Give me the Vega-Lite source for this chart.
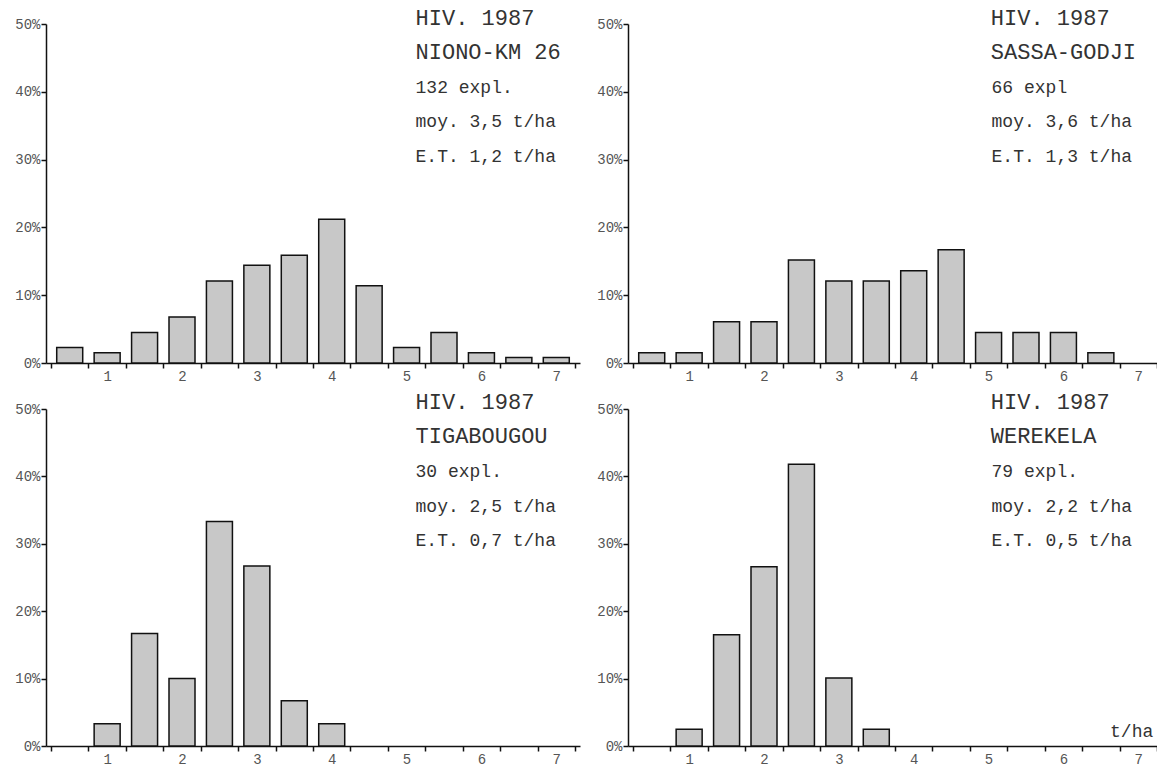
{
  "$schema": "https://vega.github.io/schema/vega-lite/v6.json",
  "padding": {"left": 14, "top": 6, "right": 0, "bottom": 0},
  "background": "white",
  "config": {
    "view": {"stroke": null},
    "font": "Liberation Mono",
    "axis": {"title": null, "grid": false, "tickSize": 5, "tickColor": "#111", "tickWidth": 1.5, "domainColor": "#111", "domainWidth": 1.5,
      "labelFont": "Liberation Mono", "labelFontSize": 14, "labelColor": "#555", "labelOverlap": false, "labelBound": false, "labelFlush": false},
    "axisX": {"labelPadding": 1},
    "axisY": {"labelPadding": 1},
    "bar": {"width": 26, "fill": "#c8c8c8", "stroke": "#111", "strokeWidth": 1.5},
    "text": {"font": "Liberation Mono", "color": "#333", "align": "left", "baseline": "middle"}
  },
  "datasets": {
    "bars": [
      {"panel": "NIONO-KM 26", "x": 0.5, "pct": 2.3},
      {"panel": "NIONO-KM 26", "x": 1.0, "pct": 1.5},
      {"panel": "NIONO-KM 26", "x": 1.5, "pct": 4.5},
      {"panel": "NIONO-KM 26", "x": 2.0, "pct": 6.8},
      {"panel": "NIONO-KM 26", "x": 2.5, "pct": 12.1},
      {"panel": "NIONO-KM 26", "x": 3.0, "pct": 14.4},
      {"panel": "NIONO-KM 26", "x": 3.5, "pct": 15.9},
      {"panel": "NIONO-KM 26", "x": 4.0, "pct": 21.2},
      {"panel": "NIONO-KM 26", "x": 4.5, "pct": 11.4},
      {"panel": "NIONO-KM 26", "x": 5.0, "pct": 2.3},
      {"panel": "NIONO-KM 26", "x": 5.5, "pct": 4.5},
      {"panel": "NIONO-KM 26", "x": 6.0, "pct": 1.5},
      {"panel": "NIONO-KM 26", "x": 6.5, "pct": 0.8},
      {"panel": "NIONO-KM 26", "x": 7.0, "pct": 0.8},
      {"panel": "SASSA-GODJI", "x": 0.5, "pct": 1.5},
      {"panel": "SASSA-GODJI", "x": 1.0, "pct": 1.5},
      {"panel": "SASSA-GODJI", "x": 1.5, "pct": 6.1},
      {"panel": "SASSA-GODJI", "x": 2.0, "pct": 6.1},
      {"panel": "SASSA-GODJI", "x": 2.5, "pct": 15.2},
      {"panel": "SASSA-GODJI", "x": 3.0, "pct": 12.1},
      {"panel": "SASSA-GODJI", "x": 3.5, "pct": 12.1},
      {"panel": "SASSA-GODJI", "x": 4.0, "pct": 13.6},
      {"panel": "SASSA-GODJI", "x": 4.5, "pct": 16.7},
      {"panel": "SASSA-GODJI", "x": 5.0, "pct": 4.5},
      {"panel": "SASSA-GODJI", "x": 5.5, "pct": 4.5},
      {"panel": "SASSA-GODJI", "x": 6.0, "pct": 4.5},
      {"panel": "SASSA-GODJI", "x": 6.5, "pct": 1.5},
      {"panel": "TIGABOUGOU", "x": 1.0, "pct": 3.3},
      {"panel": "TIGABOUGOU", "x": 1.5, "pct": 16.7},
      {"panel": "TIGABOUGOU", "x": 2.0, "pct": 10.0},
      {"panel": "TIGABOUGOU", "x": 2.5, "pct": 33.3},
      {"panel": "TIGABOUGOU", "x": 3.0, "pct": 26.7},
      {"panel": "TIGABOUGOU", "x": 3.5, "pct": 6.7},
      {"panel": "TIGABOUGOU", "x": 4.0, "pct": 3.3},
      {"panel": "WEREKELA", "x": 1.0, "pct": 2.5},
      {"panel": "WEREKELA", "x": 1.5, "pct": 16.5},
      {"panel": "WEREKELA", "x": 2.0, "pct": 26.6},
      {"panel": "WEREKELA", "x": 2.5, "pct": 41.8},
      {"panel": "WEREKELA", "x": 3.0, "pct": 10.1},
      {"panel": "WEREKELA", "x": 3.5, "pct": 2.5}
    ],
    "texts": [
      {"panel": "NIONO-KM 26", "big": ["HIV. 1987", "NIONO-KM 26"], "small": ["132 expl.", "moy. 3,5 t/ha", "E.T. 1,2 t/ha"], "unit": ""},
      {"panel": "SASSA-GODJI", "big": ["HIV. 1987", "SASSA-GODJI"], "small": ["66 expl", "moy. 3,6 t/ha", "E.T. 1,3 t/ha"], "unit": ""},
      {"panel": "TIGABOUGOU", "big": ["HIV. 1987", "TIGABOUGOU"], "small": ["30 expl.", "moy. 2,5 t/ha", "E.T. 0,7 t/ha"], "unit": ""},
      {"panel": "WEREKELA", "big": ["HIV. 1987", "WEREKELA"], "small": ["79 expl.", "moy. 2,2 t/ha", "E.T. 0,5 t/ha"], "unit": "t/ha"}
    ]
  },
  "vconcat": [
    {"hconcat": [
      {"width": 534, "height": 339, "resolve": {"axis": {"x": "independent", "y": "independent"}}, "layer": [
        {"data": {"name": "bars"}, "transform": [{"filter": "datum.panel === 'NIONO-KM 26'"}], "mark": "bar",
          "encoding": {
            "x": {"field": "x", "type": "quantitative", "scale": {"domain": [0.25, 7.25], "nice": false, "zero": false},
              "axis": {"values": [0.25, 0.75, 1, 1.25, 1.75, 2, 2.25, 2.75, 3, 3.25, 3.75, 4, 4.25, 4.75, 5, 5.25, 5.75, 6, 6.25, 6.75, 7, 7.25],
                "labelExpr": "datum.value % 1 === 0 ? '' + datum.value : ''",
                "tickOpacity": {"condition": {"test": "datum.value % 1 === 0", "value": 0}, "value": 1}}},
            "y": {"field": "pct", "type": "quantitative", "scale": {"domain": [0, 50], "nice": false},
              "axis": {"values": [0, 10, 20, 30, 40, 50], "labelExpr": "datum.value + '%'"}}}},
        {"data": {"name": "texts"}, "transform": [{"filter": "datum.panel === 'NIONO-KM 26'"}], "mark": {"type": "text", "fontSize": 22, "lineHeight": 34},
          "encoding": {"x": {"datum": 5.12, "type": "quantitative", "axis": null}, "y": {"datum": 50.9, "type": "quantitative", "axis": null}, "text": {"field": "big"}}},
        {"data": {"name": "texts"}, "transform": [{"filter": "datum.panel === 'NIONO-KM 26'"}], "mark": {"type": "text", "fontSize": 18, "lineHeight": 34.5},
          "encoding": {"x": {"datum": 5.12, "type": "quantitative", "axis": null}, "y": {"datum": 40.6, "type": "quantitative", "axis": null}, "text": {"field": "small"}}}
      ]},
      {"width": 534, "height": 339, "resolve": {"axis": {"x": "independent", "y": "independent"}}, "layer": [
        {"data": {"name": "bars"}, "transform": [{"filter": "datum.panel === 'SASSA-GODJI'"}], "mark": "bar",
          "encoding": {
            "x": {"field": "x", "type": "quantitative", "scale": {"domain": [0.25, 7.25], "nice": false, "zero": false},
              "axis": {"values": [0.25, 0.75, 1, 1.25, 1.75, 2, 2.25, 2.75, 3, 3.25, 3.75, 4, 4.25, 4.75, 5, 5.25, 5.75, 6, 6.25, 6.75, 7, 7.25],
                "labelExpr": "datum.value % 1 === 0 ? '' + datum.value : ''",
                "tickOpacity": {"condition": {"test": "datum.value % 1 === 0", "value": 0}, "value": 1}}},
            "y": {"field": "pct", "type": "quantitative", "scale": {"domain": [0, 50], "nice": false},
              "axis": {"values": [0, 10, 20, 30, 40, 50], "labelExpr": "datum.value + '%'"}}}},
        {"data": {"name": "texts"}, "transform": [{"filter": "datum.panel === 'SASSA-GODJI'"}], "mark": {"type": "text", "fontSize": 22, "lineHeight": 34},
          "encoding": {"x": {"datum": 5.03, "type": "quantitative", "axis": null}, "y": {"datum": 50.9, "type": "quantitative", "axis": null}, "text": {"field": "big"}}},
        {"data": {"name": "texts"}, "transform": [{"filter": "datum.panel === 'SASSA-GODJI'"}], "mark": {"type": "text", "fontSize": 18, "lineHeight": 34.5},
          "encoding": {"x": {"datum": 5.04, "type": "quantitative", "axis": null}, "y": {"datum": 40.6, "type": "quantitative", "axis": null}, "text": {"field": "small"}}}
      ]}
    ], "spacing": 16},
    {"hconcat": [
      {"width": 534, "height": 337, "resolve": {"axis": {"x": "independent", "y": "independent"}}, "layer": [
        {"data": {"name": "bars"}, "transform": [{"filter": "datum.panel === 'TIGABOUGOU'"}], "mark": "bar",
          "encoding": {
            "x": {"field": "x", "type": "quantitative", "scale": {"domain": [0.25, 7.25], "nice": false, "zero": false},
              "axis": {"values": [0.25, 0.75, 1, 1.25, 1.75, 2, 2.25, 2.75, 3, 3.25, 3.75, 4, 4.25, 4.75, 5, 5.25, 5.75, 6, 6.25, 6.75, 7, 7.25],
                "labelExpr": "datum.value % 1 === 0 ? '' + datum.value : ''",
                "tickOpacity": {"condition": {"test": "datum.value % 1 === 0", "value": 0}, "value": 1}}},
            "y": {"field": "pct", "type": "quantitative", "scale": {"domain": [0, 50], "nice": false},
              "axis": {"values": [0, 10, 20, 30, 40, 50], "labelExpr": "datum.value + '%'"}}}},
        {"data": {"name": "texts"}, "transform": [{"filter": "datum.panel === 'TIGABOUGOU'"}], "mark": {"type": "text", "fontSize": 22, "lineHeight": 34},
          "encoding": {"x": {"datum": 5.12, "type": "quantitative", "axis": null}, "y": {"datum": 51.0, "type": "quantitative", "axis": null}, "text": {"field": "big"}}},
        {"data": {"name": "texts"}, "transform": [{"filter": "datum.panel === 'TIGABOUGOU'"}], "mark": {"type": "text", "fontSize": 18, "lineHeight": 34.5},
          "encoding": {"x": {"datum": 5.12, "type": "quantitative", "axis": null}, "y": {"datum": 40.6, "type": "quantitative", "axis": null}, "text": {"field": "small"}}}
      ]},
      {"width": 534, "height": 337, "resolve": {"axis": {"x": "independent", "y": "independent"}}, "layer": [
        {"data": {"name": "bars"}, "transform": [{"filter": "datum.panel === 'WEREKELA'"}], "mark": "bar",
          "encoding": {
            "x": {"field": "x", "type": "quantitative", "scale": {"domain": [0.25, 7.25], "nice": false, "zero": false},
              "axis": {"values": [0.25, 0.75, 1, 1.25, 1.75, 2, 2.25, 2.75, 3, 3.25, 3.75, 4, 4.25, 4.75, 5, 5.25, 5.75, 6, 6.25, 6.75, 7, 7.25],
                "labelExpr": "datum.value % 1 === 0 ? '' + datum.value : ''",
                "tickOpacity": {"condition": {"test": "datum.value % 1 === 0", "value": 0}, "value": 1}}},
            "y": {"field": "pct", "type": "quantitative", "scale": {"domain": [0, 50], "nice": false},
              "axis": {"values": [0, 10, 20, 30, 40, 50], "labelExpr": "datum.value + '%'"}}}},
        {"data": {"name": "texts"}, "transform": [{"filter": "datum.panel === 'WEREKELA'"}], "mark": {"type": "text", "fontSize": 22, "lineHeight": 34},
          "encoding": {"x": {"datum": 5.03, "type": "quantitative", "axis": null}, "y": {"datum": 51.0, "type": "quantitative", "axis": null}, "text": {"field": "big"}}},
        {"data": {"name": "texts"}, "transform": [{"filter": "datum.panel === 'WEREKELA'"}], "mark": {"type": "text", "fontSize": 18, "lineHeight": 34.5},
          "encoding": {"x": {"datum": 5.04, "type": "quantitative", "axis": null}, "y": {"datum": 40.6, "type": "quantitative", "axis": null}, "text": {"field": "small"}}},
        {"data": {"name": "texts"}, "transform": [{"filter": "datum.panel === 'WEREKELA'"}], "mark": {"type": "text", "fontSize": 18, "align": "right"},
          "encoding": {"x": {"datum": 7.2, "type": "quantitative", "axis": null}, "y": {"datum": 2.1, "type": "quantitative", "axis": null}, "text": {"field": "unit"}}}
      ]}
    ], "spacing": 16}
  ],
  "spacing": 8
}
